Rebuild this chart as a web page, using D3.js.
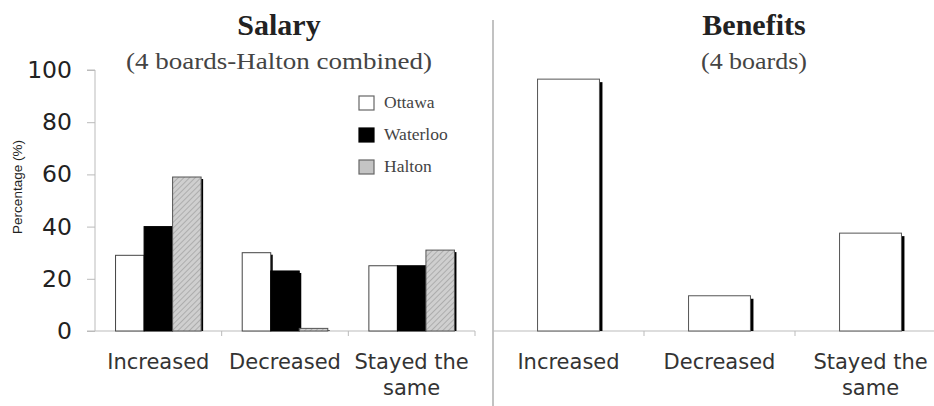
<!DOCTYPE html>
<html><head><meta charset="utf-8">
<script src="https://cdn.jsdelivr.net/npm/d3@7"></script>
<style>body{margin:0;background:#fff}svg{display:block}</style>
</head><body>
<svg id="c" width="934" height="406"></svg>
<script>
const categories = ["Increased", "Decreased", "Stayed the same"];
const salarySeries = ["Ottawa", "Waterloo", "Halton"];
const salaryOttawa = [29, 30, 25];
const salaryWaterloo = [40, 23, 25];
const salaryHalton = [59, 1, 31];
const benefitsValues = [96.5, 13.5, 37.5];
const yTicks = [0, 20, 40, 60, 80, 100];

const svg = d3.select("#c");
const defs = svg.append("defs");
const pat = defs.append("pattern").attr("id","hatch").attr("patternUnits","userSpaceOnUse")
  .attr("width",4).attr("height",4).attr("patternTransform","rotate(45)");
pat.append("rect").attr("width",4).attr("height",4).attr("fill","#cfcfcf");
pat.append("line").attr("x1",0).attr("y1",0).attr("x2",0).attr("y2",4).attr("stroke","#9a9a9a").attr("stroke-width",1.3);

const fills = {Ottawa:"#fff", Waterloo:"#000", Halton:"url(#hatch)"};
const strokes = {Ottawa:"#444", Waterloo:"#000", Halton:"#555"};

const y = d3.scaleLinear().domain([0,100]).range([331,70]);

// ---------- Left chart ----------
const xL = d3.scaleBand().domain(categories).range([95,475]).padding(0);
const xS = d3.scaleBand().domain(salarySeries).range([0,xL.bandwidth()]).paddingInner(0).paddingOuter(0.72);
const salaryData = categories.map((c,i)=>({cat:c, vals:[
  {s:"Ottawa", v:salaryOttawa[i]},{s:"Waterloo", v:salaryWaterloo[i]},{s:"Halton", v:salaryHalton[i]}]}));

// y axis
const yAx = svg.append("g").attr("transform","translate(95,0)")
  .call(d3.axisLeft(y).tickValues(yTicks).tickSize(8).tickPadding(15));
yAx.select(".domain").attr("stroke","#bbb").attr("d","M-8,70H0V331");
yAx.selectAll(".tick line").attr("stroke","#bbb");
yAx.selectAll(".tick text").attr("font-family","DejaVu Sans").attr("font-size",23.5).attr("fill","#222");

// x axis left
svg.append("line").attr("x1",87).attr("x2",475).attr("y1",y(0)).attr("y2",y(0)).attr("stroke","#bbb").attr("stroke-width",1.2);
categories.slice(1).concat(["__end"]).forEach(c=>{
  const xx = c==="__end" ? xL.range()[1] : xL(c);
  svg.append("line").attr("x1",xx).attr("x2",xx).attr("y1",y(0)).attr("y2",y(0)+5).attr("stroke","#bbb");
});

const gL = svg.append("g");
salaryData.forEach(d=>{
  const g = gL.append("g").attr("transform",`translate(${xL(d.cat)},0)`);
  g.selectAll("rect.sh").data(d.vals).join("rect").attr("class","sh")
    .attr("x",v=>xS(v.s)+2).attr("y",v=>y(v.v)+2).attr("width",xS.bandwidth())
    .attr("height",v=>Math.max(0,y(0)-y(v.v)-2)).attr("fill","#000");
  g.selectAll("rect.b").data(d.vals).join("rect").attr("class","b")
    .attr("x",v=>xS(v.s)).attr("y",v=>y(v.v)).attr("width",xS.bandwidth())
    .attr("height",v=>y(0)-y(v.v)).attr("fill",v=>fills[v.s]).attr("stroke",v=>strokes[v.s]).attr("stroke-width",1);
});

// x labels
function catLabel(xc, c){
  const t = svg.append("text").attr("text-anchor","middle").attr("font-family","DejaVu Sans")
    .attr("font-size",21).attr("fill","#333");
  if(c==="Stayed the same"){
    t.append("tspan").attr("x",xc).attr("y",369).text("Stayed the");
    t.append("tspan").attr("x",xc).attr("y",395).text("same");
  } else t.attr("x",xc).attr("y",369).text(c);
}
categories.forEach(c=>catLabel(xL(c)+xL.bandwidth()/2, c));

// y label
svg.append("text").attr("transform","translate(22,187) rotate(-90)").attr("text-anchor","middle")
  .attr("font-family","Liberation Sans").attr("font-size",13.5).attr("fill","#222").text("Percentage (%)");

// titles
function title(xc, main, sub, subLen){
  svg.append("text").attr("x",xc).attr("y",35).attr("text-anchor","middle")
    .attr("font-family","Liberation Serif").attr("font-weight","bold").attr("font-size",30).attr("fill","#222").text(main);
  svg.append("text").attr("x",xc).attr("y",69).attr("text-anchor","middle")
    .attr("font-family","Liberation Serif").attr("font-size",24).attr("fill","#444")
    .attr("textLength",subLen).attr("lengthAdjust","spacingAndGlyphs").text(sub);
}
title(279,"Salary","(4 boards-Halton combined)",306);
title(754,"Benefits","(4 boards)",106);

// legend
const lg = svg.append("g");
salarySeries.forEach((s,i)=>{
  const yy = 96 + i*32;
  lg.append("rect").attr("x",359).attr("y",yy).attr("width",15).attr("height",14)
    .attr("fill", s==="Halton" ? "#c4c4c4" : fills[s]).attr("stroke",strokes[s]==="#000"?"#000":"#666").attr("stroke-width",1.2);
  lg.append("text").attr("x",384).attr("y",yy+12).attr("font-family","Liberation Serif")
    .attr("font-size",17.5).attr("fill","#444").text(s);
});

// ---------- Right chart ----------
const xR = d3.scaleBand().domain(categories).range([493,946]).padding(0);
svg.append("line").attr("x1",493).attr("x2",493).attr("y1",20).attr("y2",406).attr("stroke","#999").attr("stroke-width",1.2);
svg.append("line").attr("x1",493).attr("x2",934).attr("y1",y(0)).attr("y2",y(0)).attr("stroke","#bbb").attr("stroke-width",1.2);
categories.slice(1).forEach(c=>{
  svg.append("line").attr("x1",xR(c)).attr("x2",xR(c)).attr("y1",y(0)).attr("y2",y(0)+5).attr("stroke","#bbb");
});
const bwR = xR.bandwidth()*0.41;
const benData = categories.map((c,i)=>({cat:c, v:benefitsValues[i]}));
const gR = svg.append("g");
gR.selectAll("rect.sh").data(benData).join("rect").attr("class","sh")
  .attr("x",d=>xR(d.cat)+xR.bandwidth()/2-bwR/2+3).attr("y",d=>y(d.v)+3)
  .attr("width",bwR).attr("height",d=>y(0)-y(d.v)-3).attr("fill","#000");
gR.selectAll("rect.b").data(benData).join("rect").attr("class","b")
  .attr("x",d=>xR(d.cat)+xR.bandwidth()/2-bwR/2).attr("y",d=>y(d.v))
  .attr("width",bwR).attr("height",d=>y(0)-y(d.v)).attr("fill","#fff").attr("stroke","#555").attr("stroke-width",1);
categories.forEach(c=>catLabel(xR(c)+xR.bandwidth()/2, c));
</script>
</body></html>
